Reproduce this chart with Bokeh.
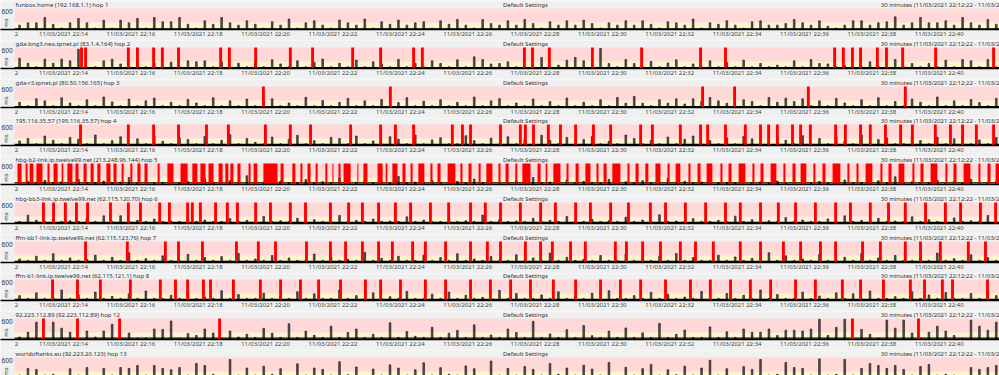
from bokeh.plotting import figure
from bokeh.layouts import column
from bokeh.models import Range1d, FixedTicker
from bokeh.core.properties import value
from bokeh.embed import file_html
from bokeh.resources import INLINE

# ---------------- data ----------------
hop_titles = [
    "funbox.home (192.168.1.1) hop 1",
    "gda-bng3.neo.tpnet.pl (83.1.4.164) hop 2",
    "gda-r3.tpnet.pl (80.50.156.165) hop 3",
    "195.116.35.57 (195.116.35.57) hop 4",
    "hbg-b2-link.ip.twelve99.net (213.248.96.144) hop 5",
    "hbg-bb3-link.ip.twelve99.net (62.115.120.70) hop 6",
    "ffm-bb1-link.ip.twelve99.net (62.115.123.76) hop 7",
    "ffm-b1-link.ip.twelve99.net (62.115.121.1) hop 8",
    "92.223.112.89 (92.223.112.89) hop 12",
    "worldoftanks.eu (92.223.20.123) hop 13",
]
center_title = "Default Settings"
range_title = "30 minutes (11/03/2021 22:12:22 - 11/03/2021 22:42:22)"

# minutes after 22:12:22
tick_minutes = [1.633, 3.633, 5.633, 7.633, 9.633, 11.633, 13.633, 15.633,
                17.633, 19.633, 21.633, 23.633, 25.633, 27.633, 29.633]
tick_labels = ["11/03/2021 22:14", "11/03/2021 22:16", "11/03/2021 22:18",
               "11/03/2021 22:20", "11/03/2021 22:22", "11/03/2021 22:24",
               "11/03/2021 22:26", "11/03/2021 22:28", "11/03/2021 22:30",
               "11/03/2021 22:32", "11/03/2021 22:34", "11/03/2021 22:36",
               "11/03/2021 22:38", "11/03/2021 22:40", "11/03/2021 22:42"]
start_label = "2"
start_label_minute = 0.06
y_max_label = "600"
y_unit = "ms"
band_limits = [0, 200, 600]   # ms: yellow band, pink band

sample_first = 0.15   # minutes, first 15-second sample in view
sample_step = 0.25    # minutes between samples

hop1_ms = [125, 190, 190, 343, 150, 40, 190, 315, 190, 40, 267, 40, 267, 190, 315, 40,
           343, 220, 220, 343, 150, 40, 248, 150, 343, 190, 125, 248,
           150, 40, 220, 125, 300, 40, 190, 250, 125, 40, 270, 190, 125, 300, 40, 220, 150, 270, 125, 190,
           220, 40, 248, 150, 286, 125, 40, 286, 170, 125, 248, 125, 286, 170, 40, 220, 125, 248,
           125, 267, 170, 40, 190, 125, 248, 125, 248,
           150, 40, 220, 190, 125, 300, 40, 190, 150, 250, 125, 40, 220,
           248, 125, 125, 170, 286, 190, 125, 248, 95, 40, 125, 248, 248, 125, 190, 220, 362,
           125, 190, 343, 190, 190, 248, 125, 343, 190, 125, 286, 150]
hop2_ms = [295, 150, 50, 267, 150, 267, 220, 550, 40, 50, 220, 267, 130, 50, 200, 50,
           150, 50, 180, 50, 220, 190, 220, 50, 190, 50, 150, 50,
           200, 50, 250, 130, 50, 220, 50, 180, 270, 50, 150, 50, 240, 50, 190, 130, 50, 260,
           50, 150, 50, 220,
           143, 50, 250, 50, 333, 257, 130, 143, 190, 50, 50, 50, 314, 50, 95, 238, 314, 219,
           50, 571, 143, 50, 257, 143,
           50, 200, 50, 160, 250, 50, 130, 50, 220, 50, 180, 50, 240, 50,
           143, 50, 95, 50, 219, 50, 257, 143, 130, 50, 85, 50, 50, 190, 50, 50, 257, 50, 143,
           50, 143, 50, 238, 50, 257, 219, 50, 257, 50]
hop3_ms = [150, 50, 250, 190, 50, 280, 130, 50, 220, 50, 300, 160, 50, 240, 50, 190, 270, 50,
           150, 50, 230, 130, 50, 280, 50, 190, 50, 240,
           50, 170, 250, 50, 130, 50, 290, 50, 200, 50, 150, 260, 50, 190, 50, 230, 50, 140,
           280, 50, 180, 50, 220, 50, 150, 50, 300, 50, 190, 250, 50, 130, 50, 240, 50, 170,
           50, 270, 50, 150, 50, 220, 50,
           286, 124, 314, 124, 50, 219, 124, 248, 100, 248, 171, 286, 190, 124, 50, 219, 171,
           50, 286, 152, 267, 171, 248,
           50, 190, 50, 260, 130, 50, 220, 50, 280, 50, 170, 50, 240, 150, 50, 300, 50, 190,
           50, 230, 140, 50, 260]
hop4_ms = [130, 200, 50, 270, 150, 50, 230, 180, 50, 300, 50, 140, 250, 50, 190, 50, 280, 120,
           50, 220, 170, 50, 260, 50, 150, 310, 50, 200, 90, 50,
           240, 50, 180, 290, 50, 140, 50, 230, 200, 50, 270, 50, 130, 50, 250, 180, 50, 300,
           50, 160, 220, 50, 50, 280, 140, 50, 210, 50, 250, 50,
           190, 50, 290, 150, 50, 230, 50, 170, 260, 50, 120, 50, 300, 200, 50, 150, 50, 240,
           50, 180, 270, 50, 140, 50, 220, 50, 260, 190, 50, 50,
           230, 150, 50, 280, 50, 200, 50, 250, 130, 50, 300, 50, 170, 220, 50, 50, 260, 140,
           50, 240, 50, 190, 280, 50, 160, 50, 230]
hop5_ms = [60, 90, 50, 120, 50, 80, 50, 150, 60, 50, 100, 50, 70, 200, 50, 90, 50, 60, 120, 50,
           80, 50, 170, 60, 50, 110, 50, 250, 50, 70,
           50, 100, 50, 60, 140, 50, 80, 50, 190, 50, 60, 110, 50, 90, 50, 230, 50, 70, 50, 120,
           60, 50, 90, 50, 160, 50, 80, 50, 60, 110,
           50, 200, 50, 70, 50, 130, 50, 90, 60, 50, 150, 50, 80, 50, 110, 50, 60, 180, 50, 90,
           50, 70, 120, 50, 60, 50, 140, 50, 80, 50,
           100, 50, 60, 170, 50, 90, 50, 70, 130, 50, 60, 50, 110, 50, 220, 50, 80, 50, 60, 120,
           50, 90, 50, 150, 50, 70, 100]
hop6_ms = [60, 238, 95, 60, 120, 60, 80, 60, 150, 60, 219, 60, 219, 60, 90, 60, 130, 60, 70, 60,
           180, 60, 100, 60, 60, 140, 60, 90, 60, 200,
           60, 80, 60, 150, 60, 110, 60, 60, 230, 60, 90, 60, 130, 60, 70, 60, 190, 60, 100, 60,
           60, 160, 60, 80, 60, 240, 60, 110, 60, 70,
           60, 150, 60, 90, 60, 200, 60, 60, 120, 60, 80, 60, 180, 60, 100, 60, 250, 60, 70, 60,
           140, 60, 60, 90, 60, 210, 60, 110, 60, 80,
           60, 170, 60, 100, 60, 60, 130, 60, 220, 60, 90, 60, 150, 60, 70, 60, 190, 60, 110, 60,
           60, 160, 60, 80, 60, 230, 60]
hop7_ms = [100, 60, 180, 60, 250, 60, 130, 60, 90, 210, 60, 150, 60, 280, 60, 110, 60, 190, 60, 60,
           230, 60, 140, 60, 170, 60, 260, 60, 100, 60,
           200, 60, 130, 60, 60, 240, 60, 160, 60, 90, 60, 290, 60, 120, 60, 180, 60, 60, 210, 60,
           140, 60, 250, 60, 100, 60, 170, 60, 60, 220,
           60, 130, 60, 270, 60, 150, 60, 90, 60, 200, 60, 60, 240, 60, 110, 60, 180, 60, 260, 60,
           140, 60, 60, 210, 60, 160, 60, 120, 60, 280,
           60, 190, 60, 100, 60, 230, 60, 60, 150, 60, 250, 60, 130, 60, 200, 60, 60, 170, 60, 270,
           60, 110, 60, 220, 60, 140, 60]
hop8_ms = [140, 60, 220, 60, 90, 300, 60, 160, 60, 240, 60, 120, 60, 190, 60, 270, 60, 60, 150, 60,
           230, 60, 100, 60, 280, 60, 170, 60, 60, 210,
           60, 130, 60, 250, 60, 190, 60, 60, 300, 60, 140, 60, 220, 60, 110, 60, 260, 60, 60, 180,
           60, 240, 60, 150, 60, 90, 60, 290, 60, 200,
           60, 60, 160, 60, 250, 60, 120, 60, 210, 60, 280, 60, 60, 140, 60, 230, 60, 180, 60, 100,
           60, 260, 60, 60, 200, 60, 150, 60, 300, 60,
           170, 60, 60, 240, 60, 130, 60, 220, 60, 190, 60, 270, 60, 60, 110, 60, 250, 60, 160, 60,
           230, 60, 60, 200, 60, 280, 140]
hop9_ms = [70, 208, 496, 40, 496, 323, 208, 40, 242, 70, 242, 438, 40, 185, 35, 40, 300, 288,
           530, 35, 173, 115, 300, 185, 40, 242, 70, 150,
           60, 320, 180, 60, 450, 60, 240, 120, 60, 380, 60, 200, 300, 60, 150, 60, 480, 60, 230,
           90, 60, 350, 60, 180, 260, 60, 420, 60, 130, 60, 300, 200, 60, 520, 60, 160, 60, 280,
           60, 400, 110, 60, 240, 60, 330, 60, 190, 60, 460, 60, 150, 270, 60, 60, 360, 60, 220,
           60, 300,
           208, 208, 300, 115, 265, 265, 242, 300, 577, 115, 346, 577, 40, 288, 150, 40, 554,
           323, 554, 185, 40, 208, 380, 242, 115, 35, 554, 380, 265, 496]
hop10_ms = [100, 286, 257, 100, 120, 90, 280, 100, 314, 90, 290, 100, 314, 290, 371, 100, 371,
            290, 250, 314, 100, 430, 371, 120, 90, 543, 100, 300,
            100, 350, 120, 280, 90, 420, 100, 300, 260, 100, 480, 110, 330, 90, 270, 100, 390,
            300, 100, 250, 450, 100, 310, 120, 100, 360, 280, 90, 500, 100, 290, 100, 340, 260,
            100, 430, 120, 300, 100, 380, 270, 100, 460, 90, 320, 100, 280, 400, 100, 250, 110,
            350, 100, 300, 520, 100, 280, 90, 340, 260,
            543, 100, 120, 457, 314, 290, 100, 560, 100, 120, 543, 100, 290, 430, 371, 290, 371,
            260, 100, 340, 400, 100, 120, 100, 90, 314, 260, 314, 371]

# minutes (after 22:12:22) of single lost-packet marks
hop1_loss = []
hop2_loss = [1.99, 2.11, 3.38, 3.65, 4.13, 4.39, 4.87, 6.12, 6.38, 7.16, 8.19, 8.85, 10.04,
             10.87, 11.85, 12.11, 15.14, 15.38, 15.88, 17.16, 18.62, 20.37, 21.11, 24.35,
             24.61, 24.88, 25.12, 25.62, 25.89, 26.37, 27.35, 29.07]
hop3_loss = [7.39, 11.16, 20.43, 21.38, 23.57, 26.45]
hop4_loss = [1.96, 3.38, 4.13, 4.87, 5.70, 6.35, 7.45, 8.19, 8.79, 9.98, 10.87, 11.31, 11.85,
             13.00, 13.30, 13.54, 14.43, 15.02, 15.17, 15.41, 15.85, 16.21, 16.66, 17.19,
             17.70, 18.59, 18.94, 19.77, 20.37, 20.58, 21.11, 21.70, 22.15, 22.39, 22.65,
             23.10, 23.34, 23.63, 24.38, 24.67, 25.12, 25.41, 25.86, 26.31, 26.66, 27.34,
             27.79, 28.15, 28.56, 29.07]
hop5_loss = []
hop6_loss = [0.86, 1.16, 1.51, 1.84, 2.17, 2.85, 3.38, 3.74, 4.31, 4.60, 5.14, 5.28, 5.52,
             5.97, 6.32, 6.62, 7.16, 7.60, 8.19, 8.64, 9.38, 9.92, 10.33, 10.81, 11.31, 11.76,
             12.35, 12.89, 13.54, 13.98, 14.43, 15.02, 15.62, 16.06, 16.66, 17.10, 17.70,
             18.23, 18.88, 19.33, 19.92, 20.52, 21.11, 21.55, 22.15, 22.68, 23.19, 23.78,
             24.38, 24.82, 25.41, 25.95, 26.45, 27.05, 27.64, 28.09, 28.68, 29.13]
hop7_loss = [2.11, 3.35, 4.48, 4.87, 5.58, 6.59, 7.24, 7.75, 8.67, 9.38, 9.83, 10.33, 10.81,
             11.22, 11.82, 12.20, 12.80, 13.54, 14.04, 14.43, 15.17, 15.62, 15.97, 16.51,
             16.95, 17.84, 18.17, 18.65, 19.18, 19.77, 20.22, 20.75, 21.55, 22.15, 22.83,
             23.34, 23.93, 24.38, 25.18, 25.71, 26.45, 26.90, 27.49, 28.32, 28.83]
hop8_loss = [1.13, 1.87, 2.55, 3.44, 4.33, 4.78, 5.14, 5.61, 5.82, 6.50, 7.30, 7.90, 8.49,
             9.03, 9.68, 10.42, 10.87, 11.46, 12.20, 12.80, 13.54, 14.13, 14.73, 15.32, 16.00,
             16.66, 17.40, 17.99, 18.59, 19.33, 20.07, 20.66, 21.26, 21.85, 22.45, 23.19,
             23.78, 24.58, 25.12, 25.80, 26.60, 27.02, 27.55, 27.85, 28.89]
hop9_loss = [0.86, 1.87, 3.12, 6.09, 24.88, 26.84]
hop10_loss = []

# contiguous loss periods (minutes after 22:12:22): start / end
hop5_block_from = [0.09, 0.33, 0.45, 0.65, 0.98, 1.16, 1.40, 1.57, 1.81, 2.05, 2.26, 2.46,
                   2.73, 2.94, 3.18, 3.44, 3.65, 3.86, 4.25, 4.54, 4.93, 5.28, 5.52, 5.76,
                   6.06, 6.26, 6.41, 6.62, 6.95, 7.10, 7.39, 7.90, 8.25, 8.49, 8.70, 8.94,
                   9.23, 9.44, 9.62, 9.77, 10.18, 10.36, 10.78, 11.02, 11.22, 11.52, 11.76,
                   11.99, 12.35, 12.56, 12.86, 13.24, 13.48, 13.78, 14.01, 14.37, 14.58, 14.87,
                   15.08, 15.53, 15.77, 16.00, 16.39, 16.66, 16.95, 17.28, 17.49, 17.75, 18.20,
                   18.44, 18.73, 19.03, 19.39, 19.63, 20.01, 20.28, 20.55, 20.96, 21.20, 21.50,
                   21.91, 22.15, 22.45, 22.83, 23.10, 23.34, 23.72, 23.99, 24.29, 24.73, 25.00,
                   25.27, 25.71, 25.95, 26.25, 26.66, 26.90, 27.20, 27.64, 27.88, 28.18, 28.62,
                   28.89, 29.13]
hop5_block_to = [0.21, 0.39, 0.56, 0.83, 1.04, 1.28, 1.45, 1.72, 1.90, 2.14, 2.35, 2.55,
                 2.85, 3.03, 3.24, 3.50, 3.74, 3.95, 4.31, 4.72, 5.14, 5.43, 5.67, 5.91,
                 6.18, 6.35, 6.50, 6.71, 7.01, 7.21, 7.81, 7.99, 8.34, 8.55, 8.79, 9.00,
                 9.29, 9.47, 9.68, 9.98, 10.21, 10.48, 10.93, 11.07, 11.37, 11.61, 11.82,
                 12.17, 12.41, 12.65, 13.09, 13.30, 13.57, 13.84, 14.19, 14.43, 14.67, 14.93,
                 15.32, 15.62, 15.82, 16.21, 16.45, 16.75, 17.10, 17.34, 17.58, 17.99, 18.26,
                 18.53, 18.82, 19.18, 19.45, 19.77, 20.07, 20.37, 20.72, 21.02, 21.29, 21.70,
                 21.97, 22.24, 22.62, 22.89, 23.19, 23.51, 23.78, 24.08, 24.52, 24.79, 25.06,
                 25.47, 25.77, 26.04, 26.42, 26.72, 26.99, 27.40, 27.70, 27.97, 28.38, 28.68,
                 28.98, 29.24]

hop_base_ms = [15, 25, 25, 30, 45, 35, 35, 35, 40, 40]

# ---------------- style ----------------
PPM = 33.68            # pixels per minute
X0 = -14 / 33.68       # minute at the left edge of the frame
FRAME_W = 999
MS_PER_PX = 600 / 21.0
FRAME_HEIGHTS = [29, 28, 28, 27, 28, 28, 28, 27, 28, 28]
BG = "#f0f0f0"
PINK = "#ffd8d8"
YELLOW = "#fdf3cf"
FONT = "Noto Sans"
TXT = "#333333"
LABEL_SHIFT = -0.178
LINE_W = 0.085         # minutes, width of a single loss mark

all_ms = [hop1_ms, hop2_ms, hop3_ms, hop4_ms, hop5_ms, hop6_ms, hop7_ms, hop8_ms, hop9_ms, hop10_ms]
all_loss = [hop1_loss, hop2_loss, hop3_loss, hop4_loss, hop5_loss, hop6_loss, hop7_loss,
            hop8_loss, hop9_loss, hop10_loss]
all_blocks = [([], [])] * 4 + [(hop5_block_from, hop5_block_to)] + [([], [])] * 5

tick_pos = [start_label_minute] + [round(t + LABEL_SHIFT, 3) for t in tick_minutes]
overrides = {start_label_minute: start_label}
for t, lab in zip(tick_minutes, tick_labels):
    overrides[round(t + LABEL_SHIFT, 3)] = lab


def panel(title, ms, loss, blocks, base, frame_h):
    x1 = X0 + FRAME_W / PPM
    ytop = frame_h * MS_PER_PX
    p = figure(frame_width=FRAME_W, frame_height=frame_h,
               x_range=Range1d(X0, x1), y_range=Range1d(0, ytop),
               output_backend="svg", toolbar_location=None, y_axis_location=None,
               min_border_left=0, min_border_right=0, min_border_top=0, min_border_bottom=0,
               background_fill_color=BG, border_fill_color=BG, outline_line_color=None)
    p.grid.visible = False
    p.quad(left=[0], right=[x1], bottom=[band_limits[0]], top=[band_limits[1]],
           fill_color=YELLOW, line_color=None)
    p.quad(left=[0], right=[x1], bottom=[band_limits[1]], top=[band_limits[2]],
           fill_color=PINK, line_color=None)
    xs = [sample_first + sample_step * i for i in range(len(ms))]
    p.vbar(x=xs, bottom=0, top=ms, width=0.05, fill_color="#555555",
           line_color="#111111", line_width=0.6)
    p.line(x=[0, x1], y=[base, base], line_color="black", line_width=1.3)
    if loss:
        p.vbar(x=loss, bottom=0, top=band_limits[2], width=LINE_W, fill_color="#ff0000",
               line_color=None)
    if blocks[0]:
        p.quad(left=blocks[0], right=blocks[1], bottom=0, top=band_limits[2],
               fill_color="#ff0000", line_color=None)
    ty = band_limits[2] + 3.8 * MS_PER_PX
    p.text(x=[0.03], y=[ty], text=[title], text_font=value(FONT), text_font_size="6px",
           text_baseline="middle", text_align="left", text_color=TXT)
    p.text(x=[15.17], y=[ty], text=[center_title], text_font=value(FONT),
           text_font_size="6px", text_baseline="middle", text_align="center", text_color=TXT)
    p.text(x=[25.72], y=[ty], text=[range_title], text_font=value(FONT),
           text_font_size="6px", text_baseline="middle", text_align="left", text_color=TXT)
    p.text(x=[X0 + 0.03], y=[band_limits[2]], text=[y_max_label], text_font=value(FONT),
           text_font_size="6.5px", text_baseline="top", text_align="left", text_color=TXT)
    p.text(x=[-0.24], y=[band_limits[1]], text=[y_unit], text_font=value(FONT),
           text_font_size="6px", text_baseline="middle", text_align="center",
           text_color=TXT, angle=1.5708)
    ax = p.xaxis[0]
    ax.ticker = FixedTicker(ticks=tick_pos)
    ax.major_label_overrides = overrides
    ax.major_tick_line_color = None
    ax.major_tick_out = 0
    ax.major_tick_in = 0
    ax.minor_tick_line_color = None
    ax.minor_tick_out = 0
    ax.minor_tick_in = 0
    ax.axis_line_color = "black"
    ax.axis_line_width = 1.5
    ax.major_label_standoff = 0
    ax.major_label_text_font = FONT
    ax.major_label_text_font_size = "6px"
    ax.major_label_text_color = "#3a4a3a"
    return p


panels = []
for i in range(10):
    panels.append(panel(hop_titles[i], all_ms[i], all_loss[i], all_blocks[i],
                        hop_base_ms[i], FRAME_HEIGHTS[i]))

layout = column(*panels, spacing=0)
open("out.html", "w").write(file_html(layout, INLINE))
